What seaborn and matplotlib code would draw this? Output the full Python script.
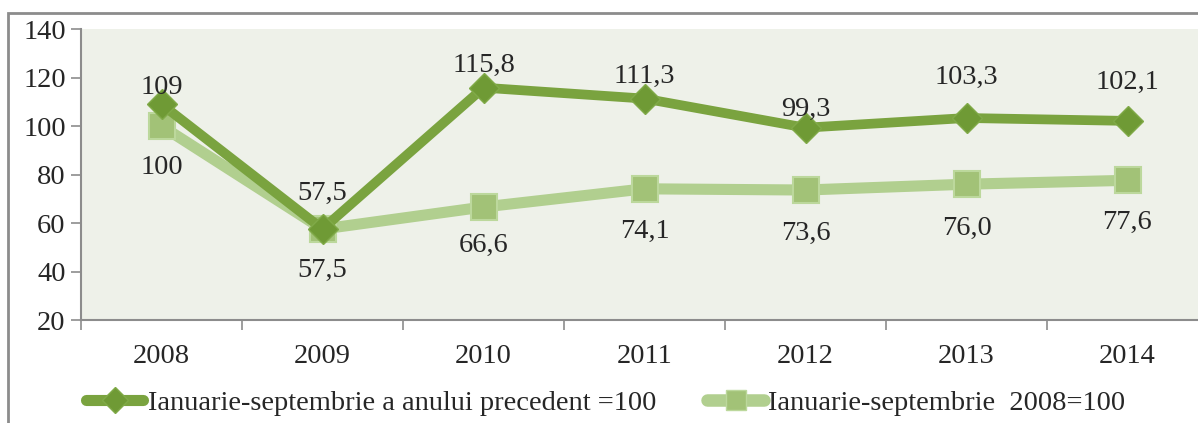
import pandas as pd
import matplotlib
matplotlib.use('Agg')
import matplotlib.pyplot as plt
import seaborn as sns
from matplotlib.patches import Rectangle
from matplotlib.lines import Line2D

years = ['2008', '2009', '2010', '2011', '2012', '2013', '2014']
prev_year = [109, 57.5, 115.8, 111.3, 99.3, 103.3, 102.1]
base_2008 = [100, 57.5, 66.6, 74.1, 73.6, 76.0, 77.6]
labels_prev = ['109', '57,5', '115,8', '111,3', '99,3', '103,3', '102,1']
labels_base = ['100', '57,5', '66,6', '74,1', '73,6', '76,0', '77,6']
name_prev = 'Ianuarie-septembrie a anului precedent =100'
name_base = 'Ianuarie-septembrie  2008=100'

# label offsets in points (hand tuned to the picture)
off_prev = [12, 26, 16, 16, 13, 29, 28]
off_base = [-30, -30, -28, -31, -31, -32, -30]

dark = '#7aa33f'
light = '#b1cf8f'
fs = 20.5

sns.set_theme(style='white')
plt.rcParams['font.family'] = ['Liberation Serif', 'DejaVu Serif']

df = pd.DataFrame({'year': list(range(len(years))) * 2,
                   'value': prev_year + base_2008,
                   'series': [name_prev] * len(years) + [name_base] * len(years)})

fig = plt.figure(figsize=(11.98, 4.23), dpi=100)
W, H = 1198, 423
ax = fig.add_axes([81 / W, 1 - 320 / H, (1208 - 81) / W, (320 - 29) / H])
ax.set_facecolor('#eef1e9')

sns.lineplot(data=df[df.series == name_base], x='year', y='value', ax=ax,
             color=light, linewidth=8, marker='s', markersize=19,
             markerfacecolor='#a2c277', markeredgecolor='#bcd89c', markeredgewidth=1.5,
             legend=False)
sns.lineplot(data=df[df.series == name_prev], x='year', y='value', ax=ax,
             color=dark, linewidth=7, marker='D', markersize=15,
             markerfacecolor='#6f9a35', markeredgecolor='#80aa48', markeredgewidth=1,
             legend=False)

for i in range(len(years)):
    ax.annotate(labels_prev[i], (i, prev_year[i]), xytext=(0, off_prev[i]),
                textcoords='offset points', ha='center', va='center', fontsize=fs)
    ax.annotate(labels_base[i], (i, base_2008[i]), xytext=(0, off_base[i]),
                textcoords='offset points', ha='center', va='center', fontsize=fs)

ax.set_xlim(-0.5, 6.5)
ax.set_ylim(20, 140)
ax.set_yticks(range(20, 141, 20))
ax.set_xticks(range(len(years)))
ax.set_xticklabels(years)
ax.set_xticks([x + 0.5 for x in range(-1, 7)], minor=True)
ax.tick_params(axis='x', which='major', bottom=False, length=0, pad=17, labelsize=fs)
ax.tick_params(axis='x', which='minor', bottom=True, length=7, width=1.2, color='#8c8c8c', direction='out')
ax.tick_params(axis='y', left=True, length=7, width=1.2, color='#8c8c8c', direction='out', pad=4, labelsize=fs)
ax.set_xlabel('')
ax.set_ylabel('')
for s in ['top', 'right']:
    ax.spines[s].set_visible(False)
for s in ['left', 'bottom']:
    ax.spines[s].set_color('#8c8c8c')
    ax.spines[s].set_linewidth(1.5)

# outer frame of the chart
fig.patches.append(Rectangle((8 / W, -0.05), 1.2, 1 - 13 / H + 0.05, transform=fig.transFigure,
                             fill=False, edgecolor='#8c8c8c', linewidth=2, clip_on=False))

handles = [Line2D([], [], color=dark, linewidth=8, marker='D', markersize=13,
                  markerfacecolor='#6f9a35', markeredgecolor='#80aa48', solid_capstyle='round'),
           Line2D([], [], color=light, linewidth=9, marker='s', markersize=15,
                  markerfacecolor='#a2c277', markeredgecolor='#bcd89c', solid_capstyle='round')]
leg = fig.legend(handles, [name_prev, name_base], loc='center', bbox_to_anchor=(606 / W, 1 - 403 / H),
                 ncol=2, frameon=False, fontsize=fs, handlelength=2.0, handletextpad=0.15,
                 columnspacing=1.8)

fig.savefig('out.png', dpi=100)
